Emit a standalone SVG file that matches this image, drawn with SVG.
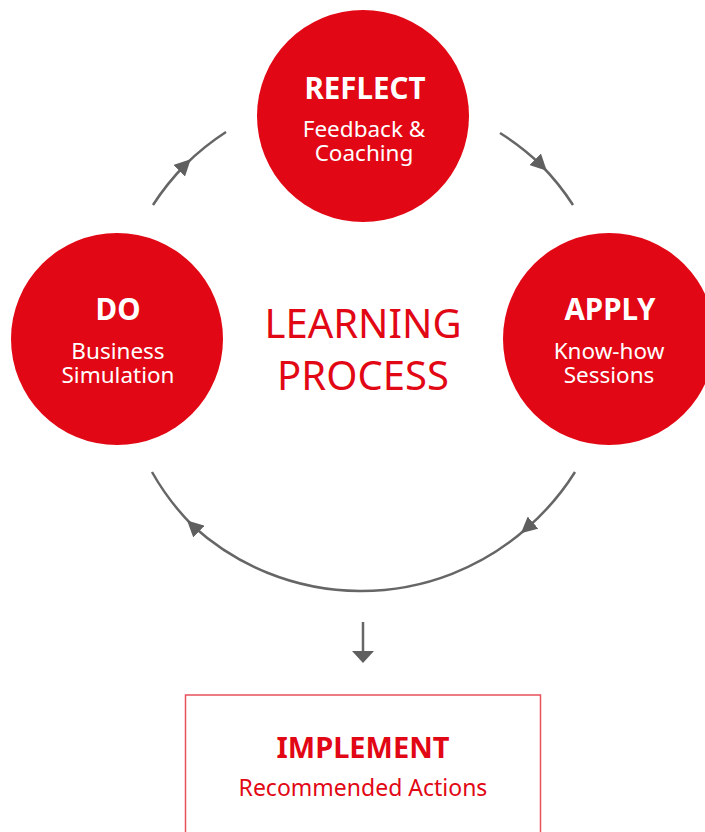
<svg xmlns="http://www.w3.org/2000/svg" width="705" height="832" viewBox="0 0 705 832">
<defs>
<style>
.node{fill:#e20714}
.t{font-family:"Noto Sans","Open Sans",sans-serif;text-anchor:middle}
.h{font-weight:bold;font-size:29.5px;fill:#fff}
.s{font-size:22.5px;fill:#fff}
.c{fill:none;stroke:#666;stroke-width:2.5}
</style>
<marker id="ah" viewBox="0 0 10 10" refX="5" refY="5" markerWidth="6.5" markerHeight="6.5" markerUnits="strokeWidth" orient="auto">
<path d="M0,0 L10,5 L0,10 Z" fill="#5f5f5f"/>
</marker>
</defs>
<rect width="705" height="832" fill="#fff"/>
<g id="connectors">
<path class="c" marker-mid="url(#ah)" d="M153,205 A250,250 0 0 1 185,165 A250,250 0 0 1 226,132"/>
<path class="c" marker-mid="url(#ah)" d="M500,133 A250,250 0 0 1 541,165 A250,250 0 0 1 573,205"/>
<path class="c" marker-mid="url(#ah)" d="M575,472 A250,250 0 0 1 527,528 A250,250 0 0 1 193,526 A250,250 0 0 1 152,472"/>
<line x1="363" y1="622" x2="363" y2="652" stroke="#666" stroke-width="2.5"/>
<polygon points="352,651 374,651 363,663" fill="#5f5f5f"/>
</g>
<g id="reflect">
<circle class="node" cx="363" cy="116" r="106"/>
<text class="t h" x="365" y="99">REFLECT</text>
<text class="t s" x="364" y="137">Feedback &amp;</text>
<text class="t s" x="364" y="161">Coaching</text>
</g>
<g id="do">
<circle class="node" cx="117" cy="339" r="106"/>
<text class="t h" x="118" y="320">DO</text>
<text class="t s" x="118" y="359">Business</text>
<text class="t s" x="118" y="383">Simulation</text>
</g>
<g id="apply">
<circle class="node" cx="609" cy="339" r="106"/>
<text class="t h" x="610" y="320">APPLY</text>
<text class="t s" x="609" y="359">Know-how</text>
<text class="t s" x="609" y="383">Sessions</text>
</g>
<g id="center">
<text class="t" x="363" y="338" font-size="40" fill="#e20714">LEARNING</text>
<text class="t" x="363" y="390" font-size="40" fill="#e20714">PROCESS</text>
</g>
<g id="implement">
<rect x="185.5" y="695" width="355" height="150" fill="none" stroke="#e8505b" stroke-width="1.5"/>
<text class="t" x="363" y="758" font-size="29" font-weight="bold" fill="#e20714">IMPLEMENT</text>
<text class="t" x="363" y="796" font-size="23" fill="#e20714">Recommended Actions</text>
</g>
</svg>
